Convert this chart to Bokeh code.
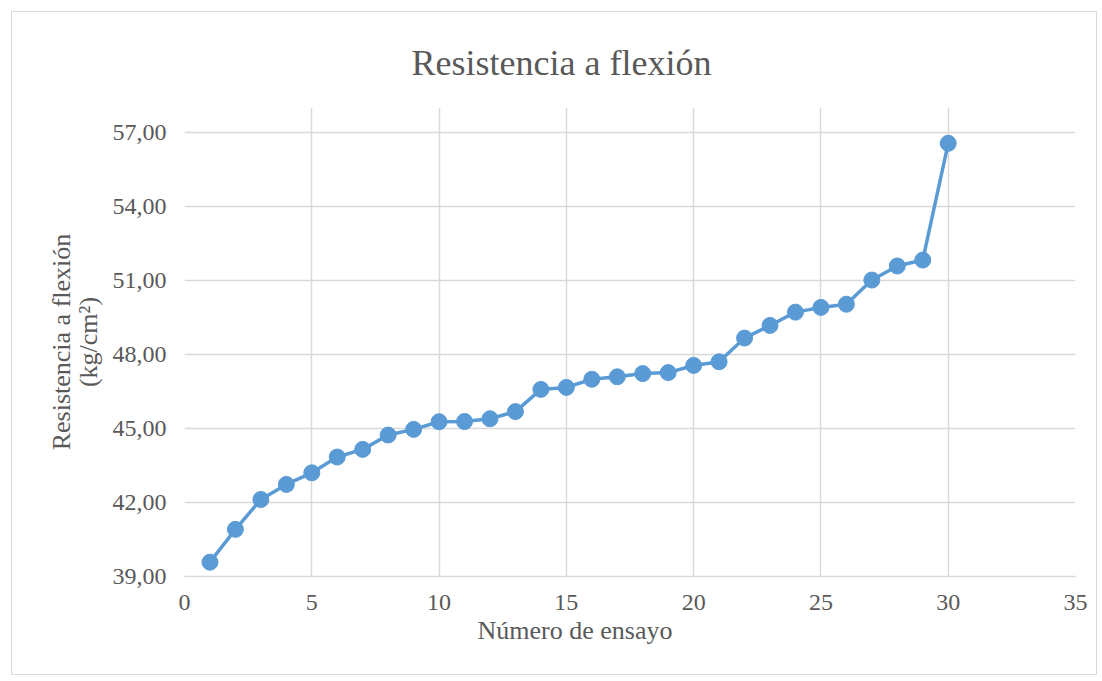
from bokeh.plotting import figure
from bokeh.models import FixedTicker, Title, ColumnDataSource
from bokeh.embed import file_html
from bokeh.resources import INLINE

ensayo = list(range(1, 31))
resistencia = [39.58, 40.91, 42.12, 42.73, 43.20, 43.84, 44.15, 44.73, 44.96, 45.27,
               45.28, 45.39, 45.68, 46.58, 46.66, 46.99, 47.09, 47.22, 47.26, 47.55,
               47.70, 48.66, 49.17, 49.71, 49.90, 50.03, 51.01, 51.58, 51.82, 56.55]
x_ticks = [0, 5, 10, 15, 20, 25, 30, 35]
y_ticks = [39, 42, 45, 48, 51, 54, 57]
y_tick_labels = ["39,00", "42,00", "45,00", "48,00", "51,00", "54,00", "57,00"]

FONT = "Liberation Serif"
TXT = "#595959"
GRID = "#d9d9d9"
BLUE = "#5b9bd5"

p = figure(width=1086, height=664, output_backend="svg", toolbar_location=None,
           x_range=(0, 35), y_range=(39, 58.0),
           min_border_left=172, min_border_right=23, min_border_top=95, min_border_bottom=100)
p.styles = {"border": "1px solid #d9d9d9", "margin-left": "11px", "margin-top": "11px"}
p.outline_line_color = None
p.background_fill_color = "white"
p.border_fill_color = "white"

t = Title(text="Resistencia a flexión", align="left", offset=227, standoff=50,
          text_font=FONT, text_font_size="36px", text_font_style="normal", text_color=TXT)
p.add_layout(t, "above")

xl = Title(text="Número de ensayo", align="left", offset=293, standoff=2,
           text_font=FONT, text_font_size="26px", text_font_style="normal", text_color=TXT)
p.add_layout(xl, "below")

src = ColumnDataSource(dict(x=ensayo, y=resistencia))
p.line("x", "y", source=src, line_color=BLUE, line_width=3.5)
p.scatter("x", "y", source=src, size=16, fill_color=BLUE, line_color=BLUE)

p.xaxis.ticker = FixedTicker(ticks=x_ticks)
p.yaxis.ticker = FixedTicker(ticks=y_ticks)
p.yaxis.major_label_overrides = {v: s for v, s in zip(y_ticks, y_tick_labels)}

for ax in (p.xaxis, p.yaxis):
    ax.major_label_text_font = FONT
    ax.major_label_text_font_size = "24px"
    ax.major_label_text_color = TXT
    ax.axis_label_text_font = FONT
    ax.axis_label_text_font_size = "26px"
    ax.axis_label_text_font_style = "normal"
    ax.axis_label_text_color = TXT
    ax.major_tick_line_color = None
    ax.minor_tick_line_color = None

p.xaxis.axis_line_color = GRID
p.xaxis.axis_line_width = 1.5
p.yaxis.axis_line_color = None
p.xaxis.major_label_standoff = 12
p.yaxis.major_label_standoff = 12
p.yaxis.axis_label = "Resistencia a flexión\n(kg/cm²)"
p.yaxis.axis_label_text_line_height = 0.92
p.yaxis.axis_label_standoff = 7

p.xgrid.ticker = FixedTicker(ticks=x_ticks)
p.ygrid.ticker = FixedTicker(ticks=y_ticks)
p.grid.grid_line_color = GRID
p.grid.grid_line_width = 1.5

open("out.html", "w").write(file_html(p, INLINE))
